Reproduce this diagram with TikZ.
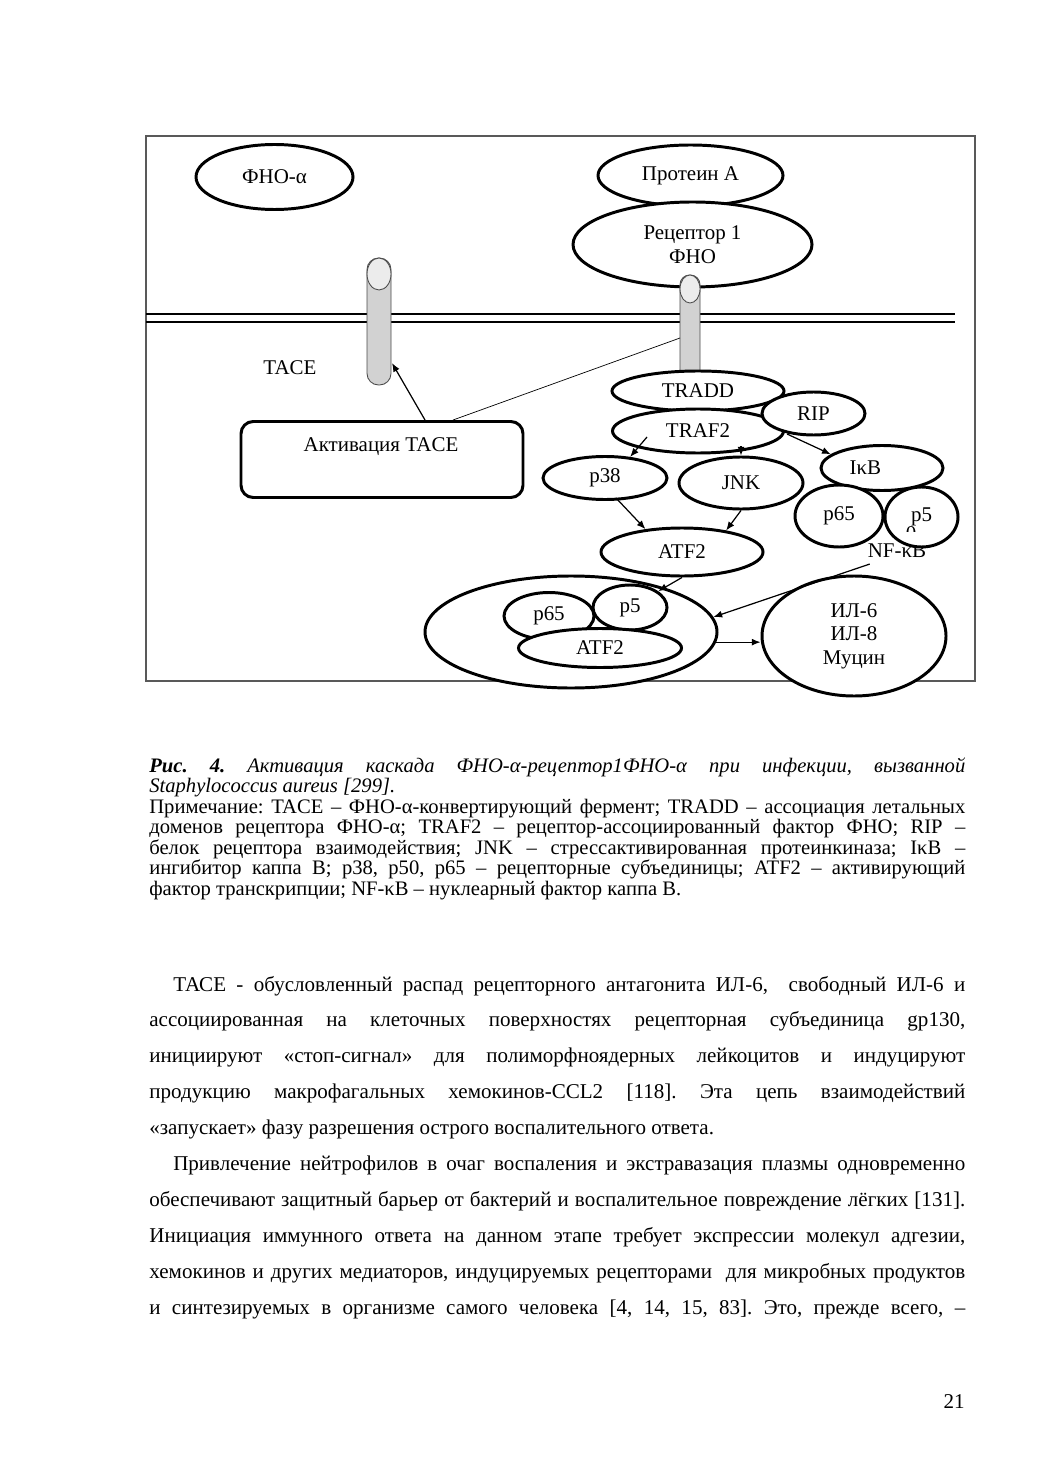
\documentclass[tikz,border=0pt]{standalone}
\usepackage{fontspec}
\setmainfont{Liberation Serif}
\usetikzlibrary{shapes.geometric, arrows.meta, calc}

\newcommand{\pxu}{0.5727pt}
\newlength{\linew}
\setlength{\linew}{467.3pt}
\newcommand{\jline}[1]{\hbox to\linew{#1}}
\newcommand{\lline}[1]{\hbox to\linew{#1\hfil}}
\frenchspacing

\tikzset{
  cell/.style={ellipse, draw, line width=1.7pt, fill=white, inner sep=0pt, align=center},
  esize/.style 2 args={minimum width=#1*\pxu, minimum height=#2*\pxu},
  arr/.style={-{Latex[length=5pt,width=4pt]}, line width=0.7pt},
  pillar/.style={draw=gray!60!black, fill=gray!35, line width=0.5pt},
  pincap/.style={draw=gray!60!black, fill=gray!15, line width=0.5pt},
}

\begin{document}
\begin{tikzpicture}[x=\pxu, y=-\pxu, font=\fontsize{12}{13.5}\selectfont]
    \useasboundingbox (0,0) rectangle (1039,1471);
    \fill[white] (0,0) rectangle (1039,1471);

    % Frame
    \draw[gray!70!black, line width=0.8pt] (146,136) rectangle (975,681);

    % Membrane
    \draw[line width=1.5pt] (146,314) -- (955,314);
    \draw[line width=1.5pt] (146,322) -- (955,322);

    % Outside the cell
    \node[cell, esize={157}{65}] (tnf) at (274.5,177) {ФНО-α};
    \node[cell, esize={185}{61}] (protA) at (690.5,175.5) {Протеин А};
    \node[cell, esize={239}{85}] (rec) at (692.5,244.5) {Рецептор 1\\ФНО};

    % Pillars through the membrane
    \draw[pillar, rounded corners=6.6pt] (367,258) rectangle (391,385);
    \draw[pincap] (379,274) ellipse [x radius=12, y radius=16];
    \draw[pillar, rounded corners=5.5pt] (680,275) rectangle (700,385);
    \draw[pincap] (690,289) ellipse [x radius=10, y radius=14];
    \coordinate (tacepin) at (392,363);
    \coordinate (recpin) at (680,338);

    \node (tacelabel) at (290,368) {TACE};

    % Activation box
    \node[draw, line width=1.7pt, rounded corners=7pt, minimum width=282*\pxu, minimum height=76*\pxu] (act) at (382,459.5) {};
    \node (acttext) at (381,447) {Активация TACE};

    % Cascade
    \node[cell, esize={172}{40}] (tradd) at (698,391) {TRADD};
    \node[cell, esize={171}{44}] (traf2) at (698,431) {TRAF2};
    \node[cell, esize={103}{43}] (rip) at (813.5,413.5) {RIP};
    \node[cell, esize={124}{43}] (p38) at (605,478) {p38};
    \node[cell, esize={124}{52}] (jnk) at (741,483) {JNK};
    \node[cell, esize={122}{45}] (ikb) at (882,468) {IκB\hspace*{19pt}};
    \node (nfkb) at (897,551) {NF-κB};
    \node[cell, esize={88}{62}] (p65r) at (839,516) {p65};
    \node[cell, esize={73}{60}] (p50r) at (921.5,517) {p5};
    \begin{scope}
        \clip (900,526) rectangle (925,531);
        \node[inner sep=0pt] (p50rest) at (911,534) {0};
    \end{scope}
    \node[cell, esize={162}{48}] (atf2) at (682,552) {ATF2};

    % Nucleus
    \node[cell, esize={292}{112}] (big) at (571,632) {};
    \node[cell, esize={90}{47}] (p65in) at (549,616) {p65};
    \node[cell, esize={74}{45}] (p50in) at (630,607.5) {p5};
    \node[cell, esize={163}{39}] (atf2in) at (600,648) {\raisebox{-3pt}{ATF2}};
    \node[cell, esize={184}{120}] (out) at (854,636) {ИЛ-6\\ИЛ-8\\Муцин};

    % Connectors
    \draw[arr] ([shift={(43,0)}]act.north) -- (tacepin);
    \draw[line width=0.4pt] ([shift={(71,0)}]act.north) -- (recpin);
    \draw[arr] ([shift={(-51,6)}]traf2.center) -- (p38.40);
    \draw[arr] ([shift={(43,15)}]traf2.center) -- (jnk.north);
    \draw[arr] ([shift={(-26.5,20.5)}]rip.center) -- (ikb.165);
    \draw[arr] ([shift={(11,20)}]p38.center) -- (atf2.148);
    \draw[arr] (jnk.south) -- (atf2.26);
    \draw[arr] (atf2.south) -- (p50in.30);
    \draw[arr] ([shift={(8,0)}]nfkb.south west) -- (big.6);
    \draw[arr] (big.-4) -- (big.-4 -| out.west);

    % Caption
    \node[anchor=base west, inner sep=0pt] (caption) at (149,772) {\vtop{\fontsize{11.8}{11.74}\selectfont\lineskiplimit=-20pt
        \jline{\textbf{\textit{Рис. 4.}} \textit{Активация каскада ФНО-α-рецептор1ФНО-α при инфекции, вызванной}}
        \lline{\textit{Staphylococcus aureus [299].}}
        \jline{Примечание: TACE – ФНО-α-конвертирующий фермент; TRADD – ассоциация летальных}
        \jline{доменов рецептора ФНО-α; TRAF2 – рецептор-ассоциированный фактор ФНО; RIP –}
        \jline{белок рецептора взаимодействия; JNK – стрессактивированная протеинкиназа; IκB –}
        \jline{ингибитор каппа B; p38, p50, p65 – рецепторные субъединицы; ATF2 – активирующий}
        \lline{фактор транскрипции; NF-κB – нуклеарный фактор каппа B.}}};

    % Body text
    \node[anchor=base west, inner sep=0pt] (body) at (149,991) {\vtop{\fontsize{12.05}{20.6}\selectfont
        \jline{\hspace*{13.7pt}ТАСЕ - обусловленный распад рецепторного антагонита ИЛ-6, \ свободный ИЛ-6 и}
        \jline{ассоциированная на клеточных поверхностях рецепторная субъединица gp130,}
        \jline{инициируют «стоп-сигнал» для полиморфноядерных лейкоцитов и индуцируют}
        \jline{продукцию макрофагальных хемокинов-CCL2 [118]. Эта цепь взаимодействий}
        \lline{«запускает» фазу разрешения острого воспалительного ответа.}
        \jline{\hspace*{13.7pt}Привлечение нейтрофилов в очаг воспаления и экстравазация плазмы одновременно}
        \jline{обеспечивают защитный барьер от бактерий и воспалительное повреждение лёгких [131].}
        \jline{Инициация иммунного ответа на данном этапе требует экспрессии молекул адгезии,}
        \jline{хемокинов и других медиаторов, индуцируемых рецепторами \ для микробных продуктов}
        \jline{и синтезируемых в организме самого человека [4, 14, 15, 83]. Это, прежде всего, –}}};

    % Page number
    \node[anchor=base east, inner sep=0pt] (pagenum) at (965,1408) {\fontsize{12.05}{14}\selectfont 21};
\end{tikzpicture}
\end{document}
